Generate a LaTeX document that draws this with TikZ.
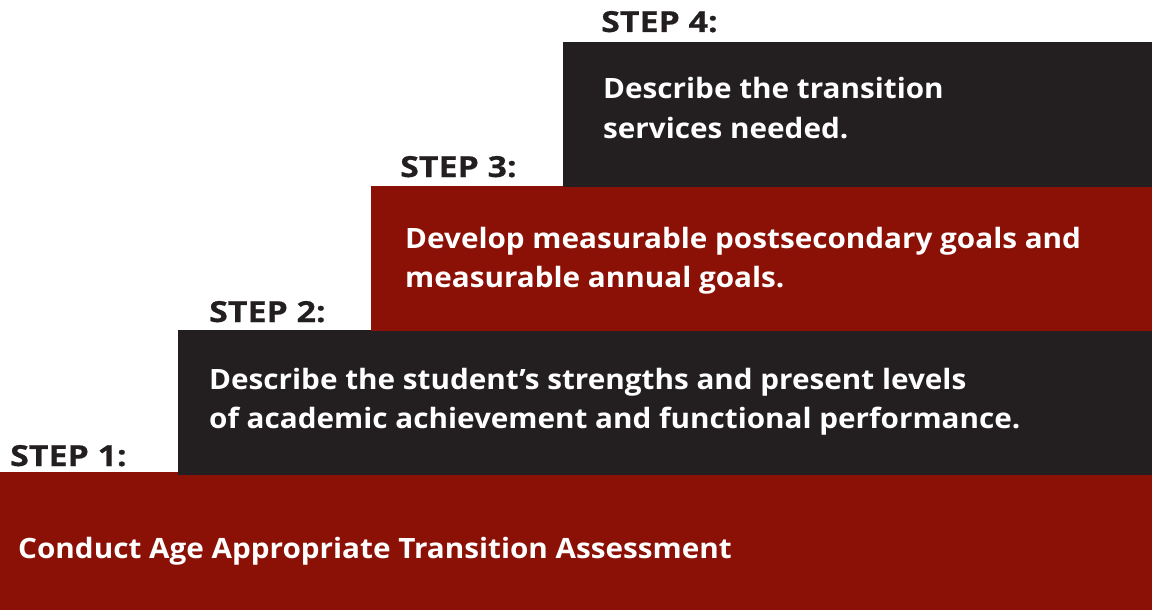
\documentclass[tikz,border=0pt]{standalone}
\usepackage{fontspec}
\setmainfont{Open Sans}[BoldFont={* Bold}]
\newfontfamily\labelfont{Open Sans Bold}[FakeStretch=1.17, FakeBold=0.6]
\newfontfamily\bodyfont{Open Sans Bold}[FakeStretch=1.06]
\definecolor{stepred}{RGB}{139,16,5}
\definecolor{stepdark}{RGB}{35,31,32}
\begin{document}
\begin{tikzpicture}[x=1pt,y=-1pt,
  steplabel/.style={anchor=base west, inner sep=0pt, text=stepdark, font=\labelfont\fontsize{29}{32}\selectfont},
  steptext/.style={anchor=base west, inner sep=0pt, text=white, font=\bodyfont\fontsize{28}{39.5}\selectfont}]
\useasboundingbox (0,0) rectangle (1152,610);
\fill[stepred] (0,472) rectangle (1152,610);
\fill[stepdark] (178,330) rectangle (1152,475);
\fill[stepred] (371,186) rectangle (1152,331);
\fill[stepdark] (563,42) rectangle (1152,187);
\node[steplabel] (l4) at (601,32) {STEP 4:};
\node[steplabel] (l3) at (400,177) {STEP 3:};
\node[steplabel] (l2) at (209,322) {STEP 2:};
\node[steplabel] (l1) at (10,466) {STEP 1:};
\node[steptext] (t4a) at (603,99) {Describe the transition};
\node[steptext] (t4b) at (603,139) {services needed.};
\node[steptext] (t3a) at (405,248) {Develop measurable postsecondary goals and};
\node[steptext] (t3b) at (405,287) {measurable annual goals.};
\node[steptext] (t2a) at (209,389) {Describe the student’s strengths and present levels};
\node[steptext] (t2b) at (209,428) {of academic achievement and functional performance.};
\node[steptext] (t1) at (18,558) {Conduct Age Appropriate Transition Assessment};
\end{tikzpicture}
\end{document}
